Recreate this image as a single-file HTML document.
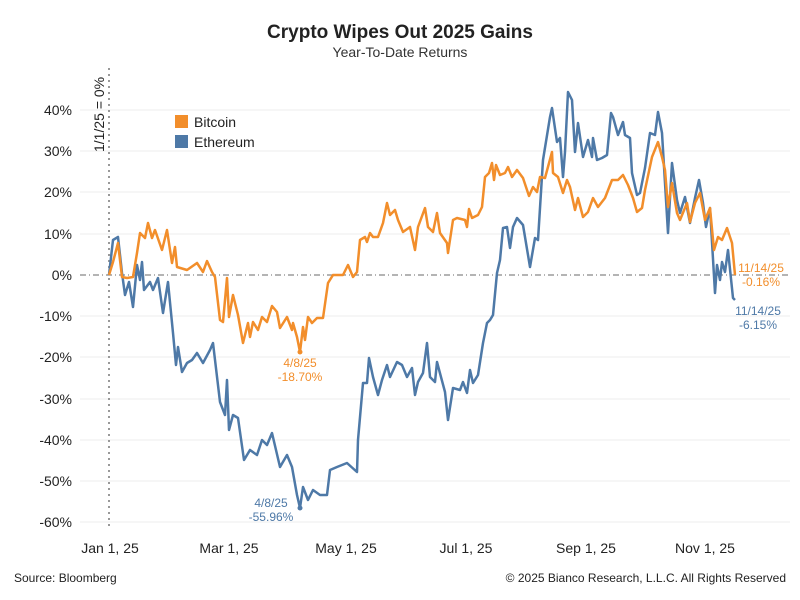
<!DOCTYPE html>
<html><head><meta charset="utf-8"><style>
body{margin:0;background:#fff;}
svg{display:block;font-family:"Liberation Sans",Arial,sans-serif;}
</style></head><body>
<svg width="800" height="600" viewBox="0 0 800 600" xmlns="http://www.w3.org/2000/svg">
<rect width="800" height="600" fill="#fff"/>
<text x="400" y="38" text-anchor="middle" font-size="19" font-weight="bold" fill="#222">Crypto Wipes Out 2025 Gains</text>
<text x="400" y="57" text-anchor="middle" font-size="14" fill="#333">Year-To-Date Returns</text>
<g stroke="#ececec" stroke-width="1">
<line x1="80" x2="790" y1="110" y2="110"/><line x1="80" x2="790" y1="151" y2="151"/><line x1="80" x2="790" y1="192" y2="192"/><line x1="80" x2="790" y1="234" y2="234"/>
<line x1="80" x2="790" y1="316" y2="316"/><line x1="80" x2="790" y1="357" y2="357"/><line x1="80" x2="790" y1="399" y2="399"/><line x1="80" x2="790" y1="440" y2="440"/><line x1="80" x2="790" y1="481" y2="481"/><line x1="80" x2="790" y1="522" y2="522"/>
</g>
<line x1="80" x2="790" y1="275" y2="275" stroke="#888" stroke-width="1.2" stroke-dasharray="6,3,1,3"/>
<line x1="109" x2="109" y1="68" y2="530" stroke="#999" stroke-width="2" stroke-dasharray="2,4"/>
<text transform="translate(104,152) rotate(-90)" font-size="14" fill="#222">1/1/25 = 0%</text>
<g font-size="14" fill="#222" text-anchor="end">
<text x="72" y="115">40%</text><text x="72" y="156">30%</text><text x="72" y="197">20%</text><text x="72" y="239">10%</text><text x="72" y="280">0%</text>
<text x="72" y="321">-10%</text><text x="72" y="362">-20%</text><text x="72" y="404">-30%</text><text x="72" y="445">-40%</text><text x="72" y="486">-50%</text><text x="72" y="527">-60%</text>
</g>
<g font-size="14" fill="#222" text-anchor="middle">
<text x="110" y="553">Jan 1, 25</text><text x="229" y="553">Mar 1, 25</text><text x="346" y="553">May 1, 25</text><text x="466" y="553">Jul 1, 25</text><text x="586" y="553">Sep 1, 25</text><text x="705" y="553">Nov 1, 25</text>
</g>
<rect x="175" y="115" width="13" height="13" fill="#f28e2b"/><text x="194" y="127" font-size="14" fill="#222">Bitcoin</text>
<rect x="175" y="135" width="13" height="13" fill="#4e79a7"/><text x="194" y="147" font-size="14" fill="#222">Ethereum</text>
<polyline fill="none" stroke="#4e79a7" stroke-width="2.5" stroke-linejoin="round" points="109,275 113,240 118,237 122,273 125,295 129,282 133,307 137,265 140,280 142,262 144,290 150,282 153,290 158,278 163,313 168,282 173,333 176,365 178,347 182,372 187,363 192,360 197,353 203,363 210,350 213,343 220,402 225,415 227,380 229,430 233,415 238,418 244,460 250,450 257,455 262,440 267,445 272,433 280,467 287,455 292,467 297,495 300,508 303,487 308,500 313,490 320,495 327,495 330,470 337,467 347,463 357,472 358,440 363,383 367,383 369,358 373,377 378,395 382,380 387,365 390,377 397,362 402,365 407,377 412,368 415,395 418,382 423,373 427,343 430,377 435,382 437,362 445,392 448,420 453,388 460,390 463,382 467,393 470,370 473,383 478,375 483,343 487,323 490,320 493,315 497,273 500,260 503,228 507,227 510,248 513,227 517,218 523,225 530,267 535,238 538,240 543,160 550,117 552,108 557,142 560,138 563,177 565,152 568,92 572,100 575,152 578,123 583,157 588,140 592,157 593,138 597,160 602,158 607,155 611,113 613,117 618,135 623,122 625,135 630,138 632,173 637,195 640,193 645,168 650,133 655,135 658,112 662,133 668,233 672,163 677,200 680,213 685,197 690,223 695,198 699,180 703,203 706,227 710,208 715,293 717,265 720,280 722,262 725,272 728,250 733,298 735,300"/>
<polyline fill="none" stroke="#f28e2b" stroke-width="2.5" stroke-linejoin="round" points="109,275 113,262 118,243 122,277 127,278 133,277 137,253 140,233 145,238 148,223 152,238 155,230 162,250 167,230 172,263 175,247 177,267 187,270 197,263 203,272 207,261 212,272 215,277 220,320 223,322 227,278 229,317 233,295 238,315 243,343 248,323 250,337 253,322 258,330 262,317 267,322 272,306 277,312 280,328 287,317 292,330 293,323 297,337 300,352 303,327 305,340 308,317 312,323 317,318 323,318 328,283 333,275 343,275 348,265 353,277 357,272 360,240 365,237 367,242 370,233 373,237 378,237 383,223 387,203 390,215 395,210 398,220 403,232 410,227 415,250 418,227 425,208 428,227 433,232 437,213 440,233 447,243 448,253 453,220 457,218 465,220 467,227 469,209 472,218 478,215 482,207 485,177 489,173 492,163 494,180 496,165 500,175 505,173 508,167 512,177 517,170 523,178 529,196 533,187 537,192 540,177 545,178 552,152 553,173 558,177 563,193 567,180 570,187 575,210 578,198 583,217 588,212 593,198 598,207 605,198 612,180 618,180 623,175 628,185 633,198 637,212 642,208 645,190 652,157 658,142 662,157 665,170 668,207 672,183 677,213 680,220 687,203 690,222 695,203 700,193 705,220 710,208 714,250 718,237 722,240 727,228 732,243 735,275"/>
<circle cx="300" cy="352" r="2.5" fill="#f28e2b"/><circle cx="300" cy="508" r="2.5" fill="#4e79a7"/>
<g font-size="12" text-anchor="middle">
<text x="300" y="367" fill="#f28e2b">4/8/25</text><text x="300" y="381" fill="#f28e2b">-18.70%</text>
<text x="271" y="507" fill="#4e79a7">4/8/25</text><text x="271" y="521" fill="#4e79a7">-55.96%</text>
<text x="761" y="272" fill="#f28e2b">11/14/25</text><text x="761" y="286" fill="#f28e2b">-0.16%</text>
<text x="758" y="315" fill="#4e79a7">11/14/25</text><text x="758" y="329" fill="#4e79a7">-6.15%</text>
</g>
<text x="14" y="582" font-size="12" fill="#222">Source: Bloomberg</text>
<text x="786" y="582" font-size="12" fill="#222" text-anchor="end">© 2025 Bianco Research, L.L.C. All Rights Reserved</text>
</svg>
</body></html>
